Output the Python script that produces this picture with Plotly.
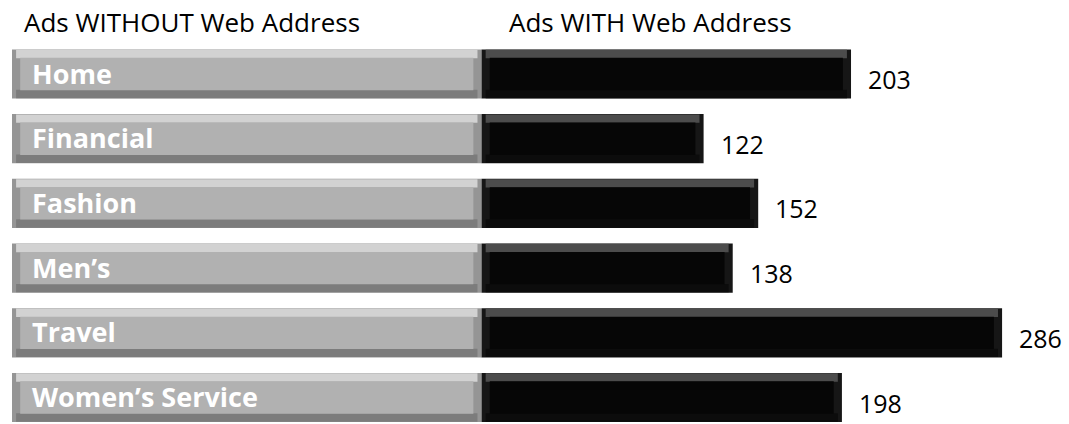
import plotly.graph_objects as go

categories = ["Home", "Financial", "Fashion", "Men’s", "Travel", "Women’s Service"]
with_web = [203, 122, 152, 138, 286, 198]
without_web = [258, 258, 258, 258, 258, 258]
header_left = "Ads WITHOUT Web Address"
header_right = "Ads WITH Web Address"

FONT = "Open Sans"
W, H = 1069, 424
PX_PER_UNIT = 1.82
BEVEL = 4.5  # horizontal bevel in data units

fig = go.Figure()


def bevel_bar(base, length, edge, top, bottom, face):
    # whole body (side bevels)
    fig.add_trace(go.Bar(y=categories, x=length, base=base, orientation="h",
                         width=0.76, offset=-0.38, marker=dict(color=edge, line=dict(width=0)),
                         hoverinfo="skip", showlegend=False))
    # top bevel (light)
    fig.add_trace(go.Bar(y=categories, x=[l - BEVEL for l in length],
                         base=[b + BEVEL / 2 for b in base], orientation="h",
                         width=0.13, offset=-0.375, marker=dict(color=top, line=dict(width=0)),
                         hoverinfo="skip", showlegend=False))
    # bottom bevel (dark)
    fig.add_trace(go.Bar(y=categories, x=[l - BEVEL for l in length],
                         base=[b + BEVEL / 2 for b in base], orientation="h",
                         width=0.13, offset=0.245, marker=dict(color=bottom, line=dict(width=0)),
                         hoverinfo="skip", showlegend=False))
    # face
    fig.add_trace(go.Bar(y=categories, x=[l - 2 * BEVEL for l in length],
                         base=[b + BEVEL for b in base], orientation="h",
                         width=0.5, offset=-0.25, marker=dict(color=face, line=dict(width=0)),
                         hoverinfo="skip", showlegend=False))


bevel_bar([0] * len(categories), without_web, "#959595", "#d2d2d2", "#7c7c7c", "#b1b1b1")
bevel_bar(without_web, with_web, "#161616", "#4c4c4c", "#0c0c0c", "#060606")

# category labels inside the grey bars
for c in categories:
    fig.add_annotation(x=0, y=c, text=f"<b>{c}</b>", showarrow=False, xanchor="left",
                       xshift=18, yshift=1, font=dict(family=FONT, size=27, color="white"))

# value labels
for c, w, v in zip(categories, without_web, with_web):
    fig.add_annotation(x=w + v, y=c, text=str(v), showarrow=False, xanchor="left",
                       xshift=15, yshift=-5, font=dict(family=FONT, size=25, color="black"))

# headers
fig.add_annotation(x=22 / W, y=1 - 22 / H, xref="paper", yref="paper", text=header_left,
                   showarrow=False, xanchor="left", yanchor="middle",
                   font=dict(family=FONT, size=26, color="black"))
fig.add_annotation(x=507 / W, y=1 - 22 / H, xref="paper", yref="paper", text=header_right,
                   showarrow=False, xanchor="left", yanchor="middle",
                   font=dict(family=FONT, size=26, color="black"))

x0 = -12 / PX_PER_UNIT
x1 = (W - 12) / PX_PER_UNIT
pitch = 64.7
top_val = -74 / pitch
bot_val = (H - 74) / pitch

fig.update_layout(
    width=W, height=H, margin=dict(l=0, r=0, t=0, b=0),
    barmode="overlay",
    plot_bgcolor="white", paper_bgcolor="white",
    xaxis=dict(range=[x0, x1], visible=False, fixedrange=True),
    yaxis=dict(range=[bot_val, top_val], visible=False, fixedrange=True,
               categoryorder="array", categoryarray=categories),
)

fig.write_html("out.html")
